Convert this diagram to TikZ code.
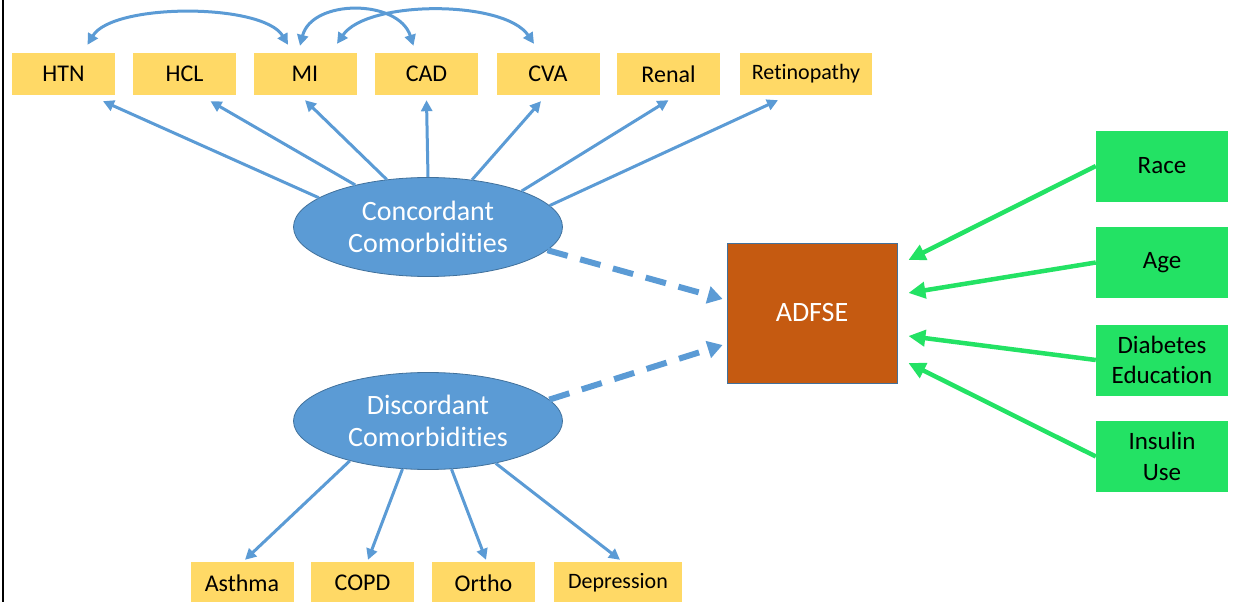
\documentclass[tikz,border=0pt]{standalone}
\usepackage{fontspec}
\setmainfont{Carlito}[Ligatures=NoCommon]
\usetikzlibrary{arrows.meta,shapes.geometric,calc}
\definecolor{boxyellow}{HTML}{FFD966}
\definecolor{lineblue}{HTML}{5B9BD5}
\definecolor{ellborder}{HTML}{41719C}
\definecolor{adfsefill}{HTML}{C55A11}
\definecolor{boxgreen}{HTML}{23E264}
\begin{document}
\begin{tikzpicture}[x=1pt,y=-1pt,
  ybox/.style={fill=boxyellow, draw=none, minimum width=103pt, minimum height=42pt, inner sep=0pt, font=\fontsize{24}{28}\selectfont},
  ysmall/.style={ybox, font=\fontsize{22}{26}\selectfont},
  gbox/.style={fill=boxgreen, draw=none, minimum width=132pt, minimum height=71pt, inner sep=0pt, align=center, font=\fontsize{25}{30.5}\selectfont},
  ellnode/.style={ellipse, fill=lineblue, draw=ellborder, line width=0.8pt, minimum width=269pt, minimum height=99pt, inner sep=0pt, text=white, align=center, font=\fontsize{28}{32}\selectfont},
  barrow/.style={draw=lineblue, line width=3pt, -{Triangle[length=11pt,width=11pt]}},
  biarrow/.style={draw=lineblue, line width=3pt, {Triangle[length=11pt,width=11pt]}-{Triangle[length=11pt,width=11pt]}},
  darrow/.style={draw=lineblue, line width=6pt, dash pattern=on 21pt off 13pt, -{Triangle[length=15pt,width=17pt]}},
  garrow/.style={draw=boxgreen, line width=4.5pt, -{Triangle[length=17pt,width=16pt]}}
]
\useasboundingbox (0,0) rectangle (1243,602);
\draw[line width=2.2pt] (3,0) -- (3,602);

% top boxes
\node[ybox] (htn) at (63.5,74) {HTN};
\node[ybox] (hcl) at (184.5,74) {HCL};
\node[ybox] (mi) at (305,74) {MI};
\node[ybox] (cad) at (426.5,74) {CAD};
\node[ybox] (cva) at (548,74) {CVA};
\node[ybox] (renal) at (668.5,74) {Renal};
\node[ysmall, minimum width=132pt] (retino) at (806,74) {Retinopathy};

% ellipses
\node[ellnode] (cc) at (428,227) {Concordant\\Comorbidities};
\node[ellnode, minimum height=97pt] (dc) at (428,421) {Discordant\\Comorbidities};

% outcome
\node[fill=adfsefill, draw=ellborder, line width=0.8pt, minimum width=170pt, minimum height=140pt, inner sep=0pt, text=white, font=\fontsize{28}{32}\selectfont] (adfse) at (812,313) {ADFSE};

% right boxes
\node[gbox] (race) at (1162,166) {Race};
\node[gbox] (age) at (1162,262.5) {Age};
\node[gbox] (diab) at (1162,360) {Diabetes\\Education};
\node[gbox] (ins) at (1162,456.5) {Insulin\\Use};

% bottom boxes
\node[ybox] (asthma) at (242,583) {Asthma};
\node[ybox] (copd) at (362.5,583) {COPD};
\node[ybox] (ortho) at (483.5,583) {Ortho};
\node[ysmall, minimum width=128pt] (dep) at (618,583) {Depression};

% concordant arrows
\draw[barrow] (cc.165) -- ([xshift=39.5pt,yshift=-6pt]htn.south);
\draw[barrow] (cc.150) -- ([xshift=26pt,yshift=-6pt]hcl.south);
\draw[barrow] (cc.131) -- ([xshift=0pt,yshift=-5pt]mi.south);
\draw[barrow] (cc.north) -- ([yshift=-5pt]cad.south);
\draw[barrow] (cc.47) -- ([xshift=-7pt,yshift=-6pt]cva.south);
\draw[barrow] (cc.21) -- ([xshift=0pt,yshift=-5pt]renal.south);
\draw[barrow] (cc.10) -- ([xshift=-28pt,yshift=-5pt]retino.south);

% curved arrows
\draw[biarrow] ([xshift=24pt,yshift=8pt]htn.north) .. controls +(25,-42) and +(-25,-42) .. ([xshift=-17pt,yshift=8pt]mi.north);
\draw[biarrow] ([xshift=-5pt,yshift=7pt]mi.north) .. controls +(12,-47) and +(-15,-47) .. ([xshift=-13pt,yshift=7pt]cad.north);
\draw[biarrow] ([xshift=32pt,yshift=9pt]mi.north) .. controls +(30,-44) and +(-30,-44) .. ([xshift=-14pt,yshift=9pt]cva.north);

% discordant arrows
\draw[barrow] (dc.-153) -- ([xshift=3pt,yshift=2pt]asthma.north);
\draw[barrow] (dc.-118) -- ([xshift=5.5pt,yshift=2pt]copd.north);
\draw[barrow] (dc.-64) -- ([xshift=2.5pt,yshift=2pt]ortho.north);
\draw[barrow] (dc.-32) -- ([xshift=2pt,yshift=2pt]dep.north);

% dashed arrows
\draw[darrow] (cc.-11) -- ([xshift=-4pt,yshift=14pt]adfse.west);
\draw[darrow] (dc.10) -- ([xshift=-4pt,yshift=-32pt]adfse.west);

% green arrows
\draw[garrow] (race.west) -- ([xshift=11pt,yshift=53pt]adfse.east);
\draw[garrow] (age.west) -- ([xshift=11pt,yshift=20pt]adfse.east);
\draw[garrow] (diab.west) -- ([xshift=11pt,yshift=-23pt]adfse.east);
\draw[garrow] (ins.west) -- ([xshift=11pt,yshift=-50pt]adfse.east);
\end{tikzpicture}
\end{document}
